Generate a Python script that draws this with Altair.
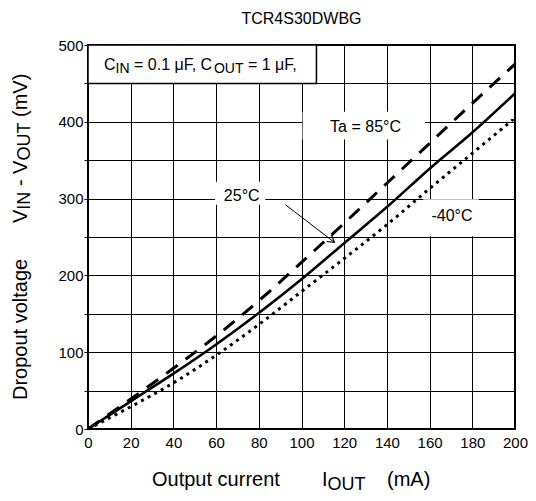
import math
import altair as alt
import pandas as pd

# ---------------- data ----------------
current_ma = [0, 20, 40, 60, 80, 100, 120, 140, 160, 180, 200]
dropout_85 = [0, 39, 79, 121, 167, 217, 268, 320, 372, 424, 475]
dropout_25 = [0, 36, 72, 110, 151, 195, 242, 289, 339, 386, 437]
dropout_m40 = [0, 29, 60, 96, 136, 179, 222, 266, 313, 359, 405]

x_ticks = list(range(0, 201, 20))
y_ticks = list(range(0, 501, 50))

title_text = "TCR4S30DWBG"

# annotation labels: text, centre x, centre y (data units)
label_text = ["Ta = 85°C", "25°C", "-40°C"]
label_x = [130, 72, 170.5]
label_y = [393, 303, 277]
# white boxes behind labels: x, x2, y, y2 (data units)
box_x = [100.5, 59.5, 157]
box_x2 = [158, 83, 183]
box_y = [377, 292, 251]
box_y2 = [413, 322, 299]
# condition box
cond_box = dict(x=0, x2=107, y=450, y2=500)
# arrow from 25°C label to the solid curve
arrow_from = (92.5, 292)
arrow_to = (115.4, 243)

W, H = 427, 384
FONT = "Liberation Sans"

ARIAL = {' ': 278, '(': 333, ')': 333, ',': 278, '-': 333, '.': 278, '=': 584,
         '°': 400, 'μ': 576, 'A': 667, 'C': 722, 'D': 722, 'F': 611, 'I': 278,
         'N': 722, 'O': 778, 'T': 611, 'U': 722, 'V': 667, 'a': 556, 'c': 500,
         'e': 556, 'g': 556, 'l': 222, 'm': 833, 'n': 556, 'o': 556, 'p': 556,
         'r': 333, 't': 278, 'u': 556, 'v': 500}


def tw(s, size):
    return sum(ARIAL.get(c, 556) for c in s) * size / 1000.0


def split_lead(s, size):
    """return (leading-space width, stripped text)"""
    stripped = s.lstrip(" ")
    lead = len(s) - len(stripped)
    return lead * 278 * size / 1000.0, stripped.rstrip(" ")


X_SCALE = alt.Scale(domain=[0, 200], nice=False, zero=False)
Y_SCALE = alt.Scale(domain=[0, 500], nice=False, zero=False)

XAX = alt.Axis(values=x_ticks, grid=True, gridColor="black", gridWidth=1,
               gridOpacity=1, ticks=False, domain=False, title=None,
               labelFont=FONT, labelFontSize=15, labelColor="black",
               labelPadding=6, labelFlush=False, labelOverlap=False)
YAX = alt.Axis(values=y_ticks, grid=True, gridColor="black", gridWidth=1,
               gridOpacity=1, ticks=True, tickSize=4, tickColor="black",
               tickWidth=1, domain=False, title=None,
               labelFont=FONT, labelFontSize=15, labelColor="black",
               labelPadding=1, labelFlush=False, labelOverlap=False,
               labelExpr="datum.value % 100 === 0 ? datum.label : ''")


def X(f):
    return alt.X(f, scale=X_SCALE, axis=XAX, title=None)


def Y(f):
    return alt.Y(f, scale=Y_SCALE, axis=YAX, title=None)


curves = pd.DataFrame({"I": current_ma, "d85": dropout_85,
                       "d25": dropout_25, "dm40": dropout_m40})

one = pd.DataFrame({"k": [0]})

layers = []

# white boxes behind labels
boxes = pd.DataFrame({"x": box_x, "x2": box_x2, "y": box_y, "y2": box_y2})
layers.append(alt.Chart(boxes).mark_rect(fill="white", strokeWidth=0).encode(
    x=X("x:Q"), x2="x2:Q", y=Y("y:Q"), y2="y2:Q"))

# condition box
cb = pd.DataFrame([cond_box])
layers.append(alt.Chart(cb).mark_rect(fill="white", stroke="black", strokeWidth=1.5).encode(
    x=X("x:Q"), x2="x2:Q", y=Y("y:Q"), y2="y2:Q"))


# curves
def curve(field, **kw):
    return alt.Chart(curves).mark_line(color="black", interpolate="monotone", **kw).encode(
        x=X("I:Q"), y=Y(f"{field}:Q"))


layers.append(curve("d85", strokeWidth=3, strokeDash=[14, 10]))
layers.append(curve("d25", strokeWidth=2.6))
layers.append(curve("dm40", strokeWidth=3, strokeDash=[3, 4.5]))

# annotation labels
lab = pd.DataFrame({"t": label_text, "x": label_x, "y": label_y})
layers.append(alt.Chart(lab).mark_text(font=FONT, fontSize=16, color="black",
                                       align="center", baseline="middle").encode(
    x=X("x:Q"), y=Y("y:Q"), text="t:N"))

# arrow
arr = pd.DataFrame({"x": [arrow_from[0]], "y": [arrow_from[1]],
                    "x2": [arrow_to[0]], "y2": [arrow_to[1]]})
layers.append(alt.Chart(arr).mark_rule(color="black", strokeWidth=1).encode(
    x=X("x:Q"), x2="x2:Q", y=Y("y:Q"), y2="y2:Q"))
dxp = (arrow_to[0] - arrow_from[0]) * W / 200.0
dyp = (arrow_from[1] - arrow_to[1]) * H / 500.0
ang = math.degrees(math.atan2(dyp, dxp))
layers.append(alt.Chart(arr).mark_point(
    shape="M -1 -0.6 L 0 0 L -1 0.6", filled=False, color="black",
    strokeWidth=1.2, size=180, angle=ang, opacity=1).encode(
    x=X("x2:Q"), y=Y("y2:Q")))


# runs of text with subscripts (horizontal), anchored in data units
def hrun(pieces, x0, y0, start_dx):
    out = []
    off = start_dx
    for text, size, shift in pieces:
        lead, body = split_lead(text, size)
        out.append(alt.Chart(one).mark_text(
            text=body, font=FONT, fontSize=size, color="black", align="left",
            baseline="alphabetic", dx=off + lead, dy=shift).encode(
            x=X("xx:Q"), y=Y("yy:Q")).transform_calculate(
            xx=str(x0), yy=str(y0)))
        off += tw(text, size)
    return out


cond_pieces = [("C", 16, 0), ("IN", 14, 3), (" = 0.1 μF, C", 16, 0),
               ("OUT", 14, 3), (" = 1 μF,", 16, 0)]
layers += hrun(cond_pieces, 0, 468, 16)


# pixel-placed text pieces (outside the plot area)
def ptext(text, x, y, size, angle=0, align="left"):
    kw = dict(text=text, font=FONT, fontSize=size, color="black", align=align,
              baseline="alphabetic")
    if angle:
        kw["angle"] = angle
    return alt.Chart(one).mark_text(**kw).encode(x=alt.value(x), y=alt.value(y))


# title
layers.append(ptext(title_text, W / 2, -21, 16, align="center"))

# x axis title
xt_base = 441
layers.append(ptext("Output current", 64, xt_base, 20))
layers.append(ptext("I", 234, xt_base, 20))
layers.append(ptext("OUT", 239.5, xt_base + 4, 18))
layers.append(ptext("(mA)", 299, xt_base, 20))

# y axis title (rotated, reading upwards)
yb = -61
layers.append(ptext("Dropout voltage", yb, 355, 20, angle=270))
ypos = 178
for text, size, shift in [("V", 20, 0), ("IN", 18, 3), (" - V", 20, 0),
                          ("OUT", 18, 3), (" (mV)", 20, 0)]:
    lead, body = split_lead(text, size)
    layers.append(ptext(body, yb + shift, ypos - lead, size, angle=270))
    ypos -= tw(text, size)

chart = alt.layer(*layers).properties(
    width=W, height=H,
    autosize=alt.AutoSizeParams(type="none"),
    padding={"left": 80, "top": 37, "right": 13, "bottom": 64},
    background="white",
).configure_view(stroke="black", strokeWidth=2)

chart.save("out.html", embed_options={"renderer": "svg", "actions": False})
